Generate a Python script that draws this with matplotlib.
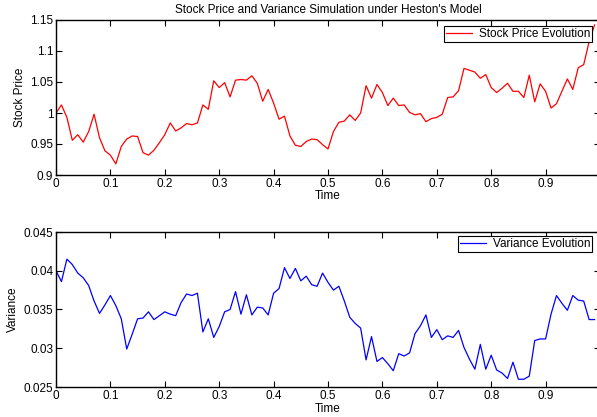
import numpy as np
import matplotlib.pyplot as plt

plt.rcParams['font.family'] = ['Liberation Sans', 'DejaVu Sans']

# Simulated path sampled at dt = 0.01
time = np.arange(100) * 0.01

stock_price = [
    1.000, 1.013, 0.993, 0.956, 0.965, 0.953, 0.970, 0.998, 0.960, 0.939,
    0.932, 0.918, 0.946, 0.958, 0.963, 0.962, 0.936, 0.932, 0.940, 0.952,
    0.965, 0.984, 0.971, 0.976, 0.983, 0.981, 0.984, 1.013, 1.006, 1.052,
    1.041, 1.049, 1.026, 1.053, 1.054, 1.053, 1.060, 1.048, 1.019, 1.038,
    1.016, 0.990, 0.995, 0.963, 0.948, 0.946, 0.954, 0.958, 0.957, 0.949,
    0.942, 0.970, 0.985, 0.987, 0.997, 0.988, 1.000, 1.044, 1.024, 1.046,
    1.033, 1.012, 1.024, 1.012, 1.013, 1.001, 0.997, 0.999, 0.986, 0.991,
    0.993, 0.998, 1.025, 1.026, 1.036, 1.072, 1.069, 1.066, 1.056, 1.062,
    1.041, 1.033, 1.040, 1.048, 1.035, 1.035, 1.025, 1.061, 1.018, 1.047,
    1.035, 1.008, 1.015, 1.035, 1.055, 1.038, 1.073, 1.078, 1.115, 1.142,
]

variance = [
    0.0400, 0.0386, 0.0415, 0.0408, 0.0397, 0.0391, 0.0381, 0.0361, 0.0345, 0.0356,
    0.0368, 0.0355, 0.0338, 0.0299, 0.0318, 0.0338, 0.0339, 0.0347, 0.0337, 0.0342,
    0.0347, 0.0344, 0.0342, 0.0359, 0.0370, 0.0368, 0.0371, 0.0321, 0.0338, 0.0314,
    0.0328, 0.0347, 0.0350, 0.0373, 0.0344, 0.0369, 0.0343, 0.0353, 0.0352, 0.0343,
    0.0371, 0.0377, 0.0404, 0.0390, 0.0403, 0.0387, 0.0393, 0.0382, 0.0380, 0.0397,
    0.0385, 0.0375, 0.0380, 0.0361, 0.0340, 0.0332, 0.0326, 0.0285, 0.0315, 0.0283,
    0.0288, 0.0280, 0.0271, 0.0293, 0.0290, 0.0294, 0.0319, 0.0329, 0.0343, 0.0314,
    0.0324, 0.0311, 0.0316, 0.0314, 0.0323, 0.0301, 0.0286, 0.0273, 0.0305, 0.0273,
    0.0291, 0.0272, 0.0268, 0.0261, 0.0282, 0.0260, 0.0260, 0.0264, 0.0310, 0.0312,
    0.0312, 0.0344, 0.0368, 0.0358, 0.0349, 0.0368, 0.0362, 0.0361, 0.0337, 0.0337,
]

x_ticks = [0, 0.1, 0.2, 0.3, 0.4, 0.5, 0.6, 0.7, 0.8, 0.9]
x_labels = ['0', '0.1', '0.2', '0.3', '0.4', '0.5', '0.6', '0.7', '0.8', '0.9']
price_ticks = [0.9, 0.95, 1.0, 1.05, 1.1, 1.15]
price_labels = ['0.9', '0.95', '1', '1.05', '1.1', '1.15']
var_ticks = [0.025, 0.03, 0.035, 0.04, 0.045]
var_labels = ['0.025', '0.03', '0.035', '0.04', '0.045']

FS = 8.5

fig = plt.figure(figsize=(5.97, 4.17), dpi=100)
ax1 = fig.add_axes([56 / 597, 1 - 175 / 417, 544 / 597, 155 / 417])
ax2 = fig.add_axes([56 / 597, 1 - 387 / 417, 544 / 597, 155 / 417])


def style_axes(ax):
    ax.tick_params(direction='in', length=4, width=0.8, labelsize=FS,
                   top=True, right=True, pad=2, colors='black')
    for s in ax.spines.values():
        s.set_linewidth(1.0)
    ax.set_xlim(0, 1)
    ax.set_xticks(x_ticks)
    ax.set_xticklabels(x_labels)


def add_legend(ax, top_px):
    leg = ax.legend(loc='upper right', bbox_to_anchor=(592 / 597, 1 - top_px / 417),
                    bbox_transform=fig.transFigure, fontsize=FS, fancybox=False,
                    framealpha=1, edgecolor='black', borderpad=0.15,
                    handlelength=2.2, handletextpad=0.6, borderaxespad=0)
    leg.get_frame().set_linewidth(0.8)
    return leg


ax1.plot(time, stock_price, color='#ff0000', lw=0.9, label='Stock Price Evolution')
style_axes(ax1)
ax1.set_ylim(0.9, 1.15)
ax1.set_yticks(price_ticks)
ax1.set_yticklabels(price_labels)
ax1.set_xlabel('Time', fontsize=FS, labelpad=0)
ax1.set_ylabel('Stock Price', fontsize=FS, labelpad=3)
ax1.set_title("Stock Price and Variance Simulation under Heston's Model", fontsize=FS, pad=5)
add_legend(ax1, 26)

ax2.plot(time, variance, color='#0000ff', lw=0.9, label='Variance Evolution')
style_axes(ax2)
ax2.set_ylim(0.025, 0.045)
ax2.set_yticks(var_ticks)
ax2.set_yticklabels(var_labels)
ax2.set_xlabel('Time', fontsize=FS, labelpad=1)
ax2.set_ylabel('Variance', fontsize=FS, labelpad=3)
add_legend(ax2, 236)

fig.savefig('out.png', dpi=100)
